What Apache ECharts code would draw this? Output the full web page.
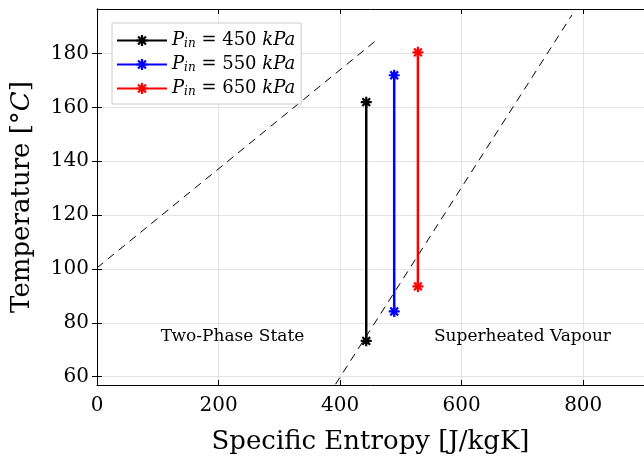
<!DOCTYPE html>
<html><head><meta charset="utf-8">
<script src="https://cdn.jsdelivr.net/npm/echarts@6/dist/echarts.min.js"></script>
<style>html,body{margin:0;padding:0;background:#fff}#c{width:644px;height:463px}</style>
</head><body><div id="c"></div>
<script>
// ---- data ----
const pressures = [450, 550, 650];
const seriesColors = ['#000000', '#0000ff', '#ff0000'];
const entropyS = [443, 489, 528];          // J/kgK
const tempLow = [73.3, 84.2, 93.5];         // °C
const tempHigh = [161.9, 171.9, 180.4];     // °C
const satLiquid = [[0, 100.4], [458, 184.6]];
const satVapour = [[380, 52.8], [781.5, 194.3]];
const regionLabels = ['Two-Phase State', 'Superheated Vapour'];
const regionPos = [[223, 75], [700, 75]];
const xTicks = [0, 200, 400, 600, 800];
const yTicks = [60, 80, 100, 120, 140, 160, 180];
const xRange = [0, 900];
const yRange = [56.9, 196.5];

const FONT = 'DejaVu Serif';
const star = 'path://M-1,-5L1,-5L1,5L-1,5Z M-5,-1L5,-1L5,1L-5,1Z M2.83,-4.24L4.24,-2.83L-2.83,4.24L-4.24,2.83Z M-4.24,-2.83L-2.83,-4.24L4.24,2.83L2.83,4.24Z';

const chart = echarts.init(document.getElementById('c'), null, {renderer: 'canvas'});
const series = [];
pressures.forEach((p, i) => {
  series.push({
    name: 'P' + p,
    type: 'line',
    data: [[entropyS[i], tempLow[i]], [entropyS[i], tempHigh[i]]],
    lineStyle: {color: seriesColors[i], width: 2.5},
    itemStyle: {color: seriesColors[i]},
    symbol: star, symbolSize: 11, showSymbol: true,
    z: 5, animation: false
  });
});
series.push({type: 'line', data: satLiquid, symbol: 'none', lineStyle: {color: '#000', width: 1, type: [8, 6]}, animation: false, silent: true});
series.push({type: 'line', data: satVapour, symbol: 'none', lineStyle: {color: '#000', width: 1, type: [8, 6]}, animation: false, silent: true});
series.push({
  type: 'scatter', symbolSize: 0, animation: false, silent: true,
  data: regionLabels.map((t, i) => ({value: regionPos[i], name: t})),
  label: {show: true, position: 'inside', formatter: p => p.name, fontFamily: FONT, fontSize: 17, color: '#000', opacity: 1}
});

const axisCommon = {
  axisLine: {show: true, lineStyle: {color: '#000', width: 1}},
  axisTick: {show: true, inside: true, length: 5, lineStyle: {color: '#000'}},
};
chart.setOption({
  backgroundColor: '#fff',
  animation: false,
  grid: {left: 97, top: 9, width: 549, height: 376, containLabel: false},
  legend: {
    orient: 'vertical', left: 112, top: 23, itemWidth: 50, itemHeight: 14, itemGap: 3,
    padding: [7, 6, 5, 4],
    backgroundColor: '#fff', borderColor: '#cccccc', borderWidth: 1,
    data: pressures.map(p => 'P' + p),
    formatter: name => '{p|P}{s|in}{n| = ' + name.slice(1) + ' }{u|kPa}',
    textStyle: {
      fontFamily: FONT, fontSize: 18, color: '#000', lineHeight: 21,
      rich: {
        p: {fontFamily: FONT, fontStyle: 'italic', fontSize: 18},
        s: {fontFamily: FONT, fontStyle: 'italic', fontSize: 12, padding: [7, 0, 0, 0]},
        n: {fontFamily: FONT, fontSize: 18},
        u: {fontFamily: FONT, fontStyle: 'italic', fontSize: 18}
      }
    }
  },
  xAxis: [
    Object.assign({}, axisCommon, {
      type: 'value', min: xRange[0], max: xRange[1], interval: 200,
      name: 'Specific Entropy [J/kgK]', nameLocation: 'middle', nameGap: 44,
      nameTextStyle: {fontFamily: FONT, fontSize: 26, color: '#000'},
      axisLabel: {fontFamily: FONT, fontSize: 20, color: '#000', margin: 11, customValues: xTicks},
      splitLine: {show: true, lineStyle: {color: '#e3e3e3', width: 1}}
    }),
    Object.assign({}, axisCommon, {
      type: 'value', position: 'top', min: xRange[0], max: xRange[1], interval: 200,
      axisLabel: {show: false}, splitLine: {show: false}
    })
  ],
  yAxis: [
    Object.assign({}, axisCommon, {
      type: 'value', min: yRange[0], max: yRange[1],
      axisTick: {show: true, inside: true, length: 5, lineStyle: {color: '#000'}, customValues: yTicks},
      axisLabel: {fontFamily: FONT, fontSize: 20, color: '#000', margin: 8, customValues: yTicks},
      name: '{n|Temperature [°}{i|C}{n|]}', nameLocation: 'middle', nameGap: 62, nameRotate: 90,
      nameTextStyle: {fontFamily: FONT, fontSize: 26, color: '#000',
        rich: {n: {fontFamily: FONT, fontSize: 26}, i: {fontFamily: FONT, fontSize: 26, fontStyle: 'italic'}}},
      splitLine: {show: true, lineStyle: {color: '#e3e3e3', width: 1}}
    }),
    Object.assign({}, axisCommon, {
      type: 'value', position: 'right', min: yRange[0], max: yRange[1],
      axisTick: {show: true, inside: true, length: 5, lineStyle: {color: '#000'}, customValues: yTicks},
      axisLabel: {show: false}, splitLine: {show: false}
    })
  ],
  series: series
});
</script></body></html>
